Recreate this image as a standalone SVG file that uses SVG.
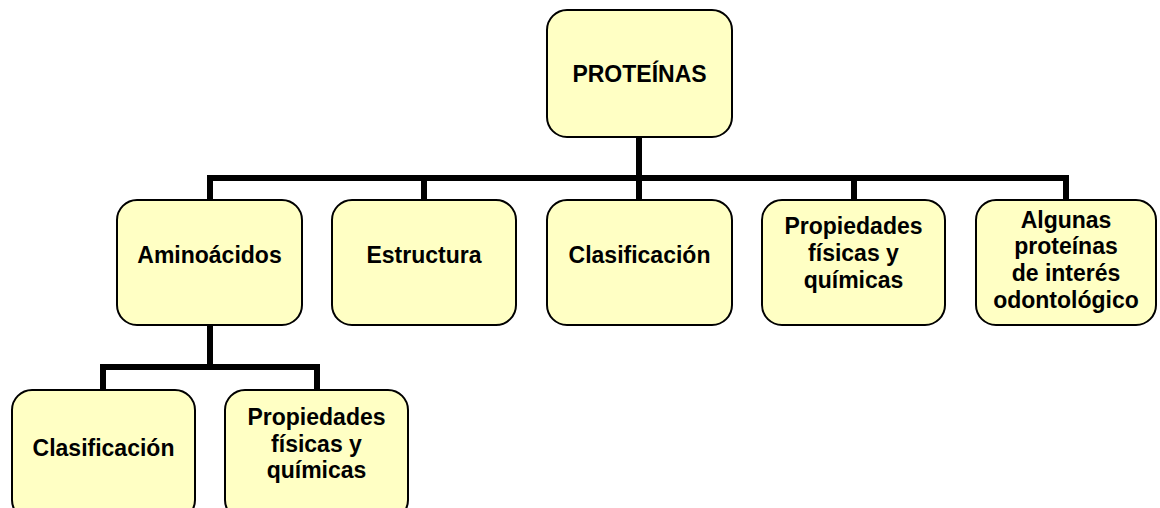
<svg xmlns="http://www.w3.org/2000/svg" width="1160" height="508" viewBox="0 0 1160 508">
<style>
.box{fill:#FFFFC4;stroke:#000;stroke-width:2}
.t{font-family:"Liberation Sans",Arial,sans-serif;font-weight:bold;font-size:23px;fill:#000;text-anchor:middle}
.c{fill:none;stroke:#000;stroke-width:6;stroke-linejoin:miter;stroke-linecap:butt}
</style>
<rect width="1160" height="508" fill="#fff"/>
<g id="connectors">
<path class="c" d="M639 137V178M210 200V178H1066V200M424 178V200M639 178V200M854 178V200"/>
<path class="c" d="M210 325V367M103 390V367H317V390"/>
</g>
<g id="proteinas"><rect class="box" x="547" y="10" width="185" height="127" rx="20"/><text class="t" x="639.5" y="82">PROTEÍNAS</text></g>
<g id="aminoacidos"><rect class="box" x="117" y="200" width="185" height="125" rx="20"/><text class="t" x="209.5" y="263">Aminoácidos</text></g>
<g id="estructura"><rect class="box" x="332" y="200" width="184" height="125" rx="20"/><text class="t" x="424" y="263">Estructura</text></g>
<g id="clasificacion"><rect class="box" x="547" y="200" width="185" height="125" rx="20"/><text class="t" x="639.5" y="263">Clasificación</text></g>
<g id="propiedades"><rect class="box" x="762" y="200" width="183" height="125" rx="20"/><text class="t" x="853.5" y="234">Propiedades</text><text class="t" x="853.5" y="261">físicas y</text><text class="t" x="853.5" y="288">químicas</text></g>
<g id="algunas"><rect class="box" x="976" y="200" width="180" height="125" rx="20"/><text class="t" x="1066" y="228">Algunas</text><text class="t" x="1066" y="254">proteínas</text><text class="t" x="1066" y="281">de interés</text><text class="t" x="1066" y="308">odontológico</text></g>
<g id="aa-clasificacion"><rect class="box" x="12" y="390" width="183" height="130" rx="20"/><text class="t" x="103.5" y="456">Clasificación</text></g>
<g id="aa-propiedades"><rect class="box" x="225" y="390" width="183" height="130" rx="20"/><text class="t" x="316.5" y="425">Propiedades</text><text class="t" x="316.5" y="452">físicas y</text><text class="t" x="316.5" y="478">químicas</text></g>
</svg>
